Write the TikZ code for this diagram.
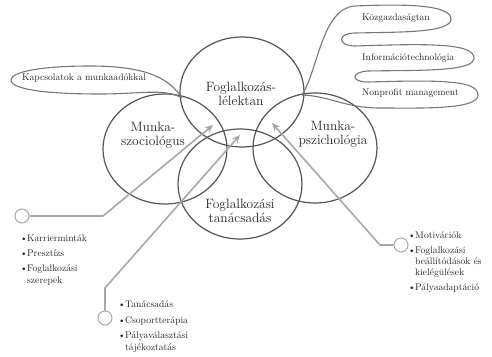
\documentclass[tikz,border=0pt]{standalone}
\usetikzlibrary{shapes.geometric,arrows.meta}
\definecolor{ringgray}{HTML}{555555}
\definecolor{arrowgray}{HTML}{A8A8A8}
\definecolor{bubblegray}{HTML}{787878}
\definecolor{txt}{HTML}{262626}
\newcommand{\bul}{\makebox[7pt][l]{\textbullet}}
\newcommand{\cont}{\hspace*{7pt}}
\begin{document}
\begin{tikzpicture}[x=1pt,y=-1pt,
  ring/.style={ellipse, draw=ringgray, line width=1.2pt, minimum width=124pt, minimum height=110pt, inner sep=0pt},
  big/.style={font=\fontsize{13.5}{14}\selectfont, text=txt, align=center, inner sep=0pt},
  small/.style={font=\fontsize{9.6}{11}\selectfont, text=txt, inner sep=0pt, text height=6.8pt, text depth=1.9pt},
  item/.style={small, anchor=west},
  hub/.style={circle, draw=arrowgray, line width=1pt, minimum size=14pt, inner sep=0pt},
  pointer/.style={draw=arrowgray, line width=1.6pt, line join=round, -{Stealth[length=8pt,width=7pt]}},
  bubble/.style={draw=bubblegray, line width=1.1pt}]

\useasboundingbox[fill=white] (0,0) rectangle (492,356);

% the four overlapping fields
\node[ring] (lel) at (242,92) {};
\node[ring] (szoc) at (165,149) {};
\node[ring] (pszi) at (315,148) {};
\node[ring] (tan) at (240,184) {};

\node[big] (lel-t) at (241,94) {Foglalkozás-\\lélektan};
\node[big] (szoc-t) at (153,135) {Munka-\\szociológus};
\node[big] (pszi-t) at (333,134) {Munka-\\pszichológia};
\node[big] (tan-t) at (240,211) {Foglalkozási\\tanácsadás};

% callout on the left
\draw[bubble] (182,98) .. controls (170,80) and (150,66) .. (90,66)
  .. controls (40,66) and (11,72) .. (11,80)
  .. controls (11,90) and (50,94) .. (100,94)
  .. controls (140,94) and (165,88) .. (182,98);
\node[item] (kap) at (22,78) {Kapcsolatok a munkaadókkal};

% three-lobed callout on the right
\draw[bubble] (302,95) .. controls (318,70) and (322,8) .. (355,6)
  .. controls (400,4) and (451,4) .. (451,19)
  .. controls (451,33) and (400,32) .. (355,33)
  .. controls (337,33) and (337,46) .. (355,46)
  .. controls (420,44) and (474,42) .. (474,58)
  .. controls (474,72) and (420,70) .. (368,71)
  .. controls (351,72) and (350,82) .. (368,82)
  .. controls (440,80) and (478,80) .. (478,95)
  .. controls (478,110) and (420,108) .. (380,108)
  .. controls (345,108) and (330,96) .. (302,95);
\node[item] (kozg) at (362,18) {Közgazdaságtan};
\node[item] (info) at (362,58) {Információtechnológia};
\node[item] (nonp) at (362,93) {Nonprofit management};

% pointers with their hubs
\node[hub] (h1) at (22,216) {};
\coordinate (b1) at (103,216);
\coordinate (p1) at (213,125);
\draw[pointer] (h1.east) -- (b1) -- (p1);

\node[hub] (h2) at (105,318) {};
\coordinate (b2) at (105,288);
\coordinate (p2) at (240,135);
\draw[pointer] (h2.north) -- (b2) -- (p2);

\node[hub] (h3) at (401,245) {};
\coordinate (b3) at (380,245);
\coordinate (p3) at (272,123);
\draw[pointer] (h3.west) -- (b3) -- (p3);

% lists
\node[item] (l1) at (20,239) {\bul Karrierminták};
\node[item] (l2) at (20,254) {\bul Presztízs};
\node[item] (l3) at (20,269) {\bul Foglalkozási};
\node[item] (l4) at (20,281) {\cont szerepek};

\node[item] (m1) at (118,305) {\bul Tanácsadás};
\node[item] (m2) at (118,321) {\bul Csoportterápia};
\node[item] (m3) at (118,336) {\bul Pályaválasztási};
\node[item] (m4) at (118,348) {\cont tájékoztatás};

\node[item] (r1) at (408,236) {\bul Motivációk};
\node[item] (r2) at (408,251) {\bul Foglalkozási};
\node[item] (r3) at (408,262) {\cont beállítódások és};
\node[item] (r4) at (408,273) {\cont kielégülések};
\node[item] (r5) at (408,288) {\bul Pályaadaptáció};
\end{tikzpicture}
\end{document}
